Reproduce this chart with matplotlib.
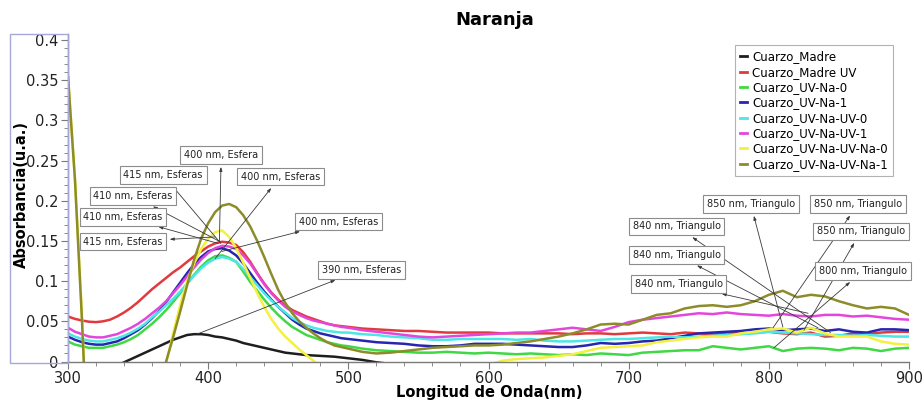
import matplotlib
matplotlib.use('Agg')
import matplotlib.pyplot as plt
from matplotlib.patches import Rectangle
from matplotlib.ticker import MultipleLocator, FixedLocator
from matplotlib.lines import Line2D

plt.rcParams['font.family'] = ['DejaVu Sans']

# ---------------- data ----------------
# 5 nm steps from 300 to 495 nm, 10 nm steps from 500 to 900 nm
wavelength = list(range(300, 500, 5)) + list(range(500, 901, 10))

cuarzo_madre = [
    -0.030, -0.027, -0.024, -0.020, -0.017, -0.013, -0.009, -0.005, -0.001, 0.003,
    0.007, 0.011, 0.015, 0.019, 0.023, 0.027, 0.030, 0.033, 0.034, 0.034,
    0.033, 0.031, 0.030, 0.028, 0.026, 0.023, 0.021, 0.019, 0.017, 0.015,
    0.013, 0.011, 0.010, 0.009, 0.008, 0.0075, 0.007, 0.0065, 0.006, 0.005,
    0.004, 0.002, -0.001, -0.003, -0.003, -0.003, -0.003, -0.003, -0.003, -0.003,
    -0.003, -0.003, -0.003, -0.003, -0.003, -0.003, -0.003, -0.003, -0.003, -0.003,
    -0.003, -0.003, -0.003, -0.003, -0.003, -0.003, -0.003, -0.003, -0.003, -0.003,
    -0.003, -0.003, -0.003, -0.003, -0.003, -0.003, -0.003, -0.003, -0.003, -0.003,
    -0.003]
cuarzo_madre_uv = [
    0.056, 0.053, 0.051, 0.0495, 0.049, 0.050, 0.052, 0.056, 0.061, 0.067,
    0.074, 0.082, 0.090, 0.097, 0.104, 0.111, 0.117, 0.124, 0.131, 0.137,
    0.143, 0.147, 0.149, 0.148, 0.145, 0.136, 0.124, 0.110, 0.097, 0.086,
    0.077, 0.070, 0.064, 0.060, 0.056, 0.053, 0.050, 0.047, 0.045, 0.044,
    0.043, 0.041, 0.040, 0.039, 0.038, 0.038, 0.037, 0.036, 0.036, 0.036,
    0.036, 0.035, 0.035, 0.035, 0.035, 0.035, 0.034, 0.035, 0.035, 0.034,
    0.035, 0.036, 0.035, 0.034, 0.036, 0.035, 0.034, 0.036, 0.035, 0.036,
    0.037, 0.035, 0.034, 0.036, 0.031, 0.032, 0.035, 0.034, 0.036, 0.037,
    0.037]
cuarzo_uv_na_0 = [
    0.025, 0.021, 0.019, 0.017, 0.017, 0.017, 0.019, 0.021, 0.024, 0.028,
    0.033, 0.040, 0.047, 0.055, 0.064, 0.074, 0.085, 0.097, 0.108, 0.118,
    0.126, 0.131, 0.132, 0.129, 0.124, 0.112, 0.099, 0.088, 0.077, 0.067,
    0.058, 0.050, 0.043, 0.038, 0.033, 0.030, 0.027, 0.024, 0.022, 0.020,
    0.019, 0.016, 0.014, 0.013, 0.012, 0.011, 0.011, 0.012, 0.011, 0.010,
    0.011, 0.010, 0.009, 0.010, 0.009, 0.008, 0.009, 0.008, 0.010, 0.009,
    0.008, 0.011, 0.012, 0.013, 0.014, 0.014, 0.019, 0.017, 0.015, 0.017,
    0.019, 0.013, 0.016, 0.017, 0.016, 0.014, 0.017, 0.016, 0.013, 0.016,
    0.017]
cuarzo_uv_na_1 = [
    0.031, 0.027, 0.024, 0.022, 0.021, 0.021, 0.023, 0.025, 0.029, 0.034,
    0.039, 0.046, 0.054, 0.063, 0.074, 0.086, 0.098, 0.110, 0.121, 0.130,
    0.137, 0.140, 0.141, 0.138, 0.132, 0.122, 0.110, 0.098, 0.087, 0.077,
    0.068, 0.060, 0.052, 0.046, 0.041, 0.038, 0.035, 0.033, 0.031, 0.029,
    0.028, 0.026, 0.024, 0.023, 0.022, 0.020, 0.019, 0.019, 0.020, 0.022,
    0.022, 0.022, 0.021, 0.020, 0.019, 0.018, 0.018, 0.020, 0.023, 0.022,
    0.023, 0.025, 0.026, 0.029, 0.032, 0.035, 0.036, 0.037, 0.038, 0.040,
    0.041, 0.039, 0.040, 0.041, 0.038, 0.040, 0.037, 0.036, 0.040, 0.040,
    0.039]
cuarzo_uv_na_uv_0 = [
    0.035, 0.031, 0.028, 0.026, 0.025, 0.025, 0.027, 0.029, 0.032, 0.036,
    0.041, 0.047, 0.055, 0.062, 0.070, 0.078, 0.087, 0.097, 0.107, 0.116,
    0.123, 0.128, 0.130, 0.128, 0.124, 0.115, 0.105, 0.095, 0.085, 0.076,
    0.068, 0.061, 0.054, 0.049, 0.045, 0.042, 0.040, 0.038, 0.037, 0.036,
    0.036, 0.034, 0.033, 0.031, 0.030, 0.029, 0.027, 0.027, 0.028, 0.028,
    0.028, 0.028, 0.027, 0.028, 0.026, 0.025, 0.025, 0.026, 0.027, 0.028,
    0.028, 0.029, 0.030, 0.031, 0.030, 0.031, 0.032, 0.033, 0.034, 0.035,
    0.037, 0.036, 0.035, 0.034, 0.033, 0.033, 0.032, 0.033, 0.032, 0.031,
    0.031]
cuarzo_uv_na_uv_1 = [
    0.042, 0.037, 0.034, 0.031, 0.030, 0.030, 0.032, 0.034, 0.038, 0.042,
    0.047, 0.053, 0.060, 0.067, 0.075, 0.085, 0.095, 0.106, 0.117, 0.127,
    0.135, 0.141, 0.144, 0.143, 0.140, 0.132, 0.122, 0.109, 0.096, 0.085,
    0.076, 0.068, 0.062, 0.058, 0.054, 0.051, 0.049, 0.047, 0.045, 0.043,
    0.042, 0.039, 0.037, 0.035, 0.033, 0.031, 0.030, 0.031, 0.032, 0.033,
    0.034, 0.035, 0.036, 0.036, 0.038, 0.040, 0.042, 0.040, 0.038, 0.043,
    0.049, 0.052, 0.054, 0.056, 0.058, 0.060, 0.059, 0.061, 0.059, 0.058,
    0.057, 0.059, 0.057, 0.056, 0.058, 0.058, 0.056, 0.057, 0.055, 0.053,
    0.052]
cuarzo_uv_na_uv_na_0 = [
    0.355, 0.227, 0.055, -0.150, -0.200, -0.220, -0.230, -0.230, -0.220, -0.200,
    -0.170, -0.140, -0.100, -0.055, -0.002, 0.035, 0.070, 0.100, 0.122, 0.140,
    0.153, 0.161, 0.163, 0.155, 0.141, 0.123, 0.104, 0.085, 0.068, 0.053,
    0.041, 0.031, 0.023, 0.015, 0.008, 0.001, -0.006, -0.013, -0.020, -0.025,
    -0.030, -0.035, -0.038, -0.040, -0.040, -0.038, -0.035, -0.030, -0.022, -0.012,
    -0.004, 0.001, 0.003, 0.004, 0.005, 0.007, 0.009, 0.013, 0.017, 0.018,
    0.019, 0.020, 0.024, 0.026, 0.028, 0.030, 0.031, 0.031, 0.035, 0.037,
    0.040, 0.041, 0.036, 0.042, 0.035, 0.031, 0.031, 0.031, 0.025, 0.022,
    0.021]
cuarzo_uv_na_uv_na_1 = [
    0.355, 0.225, 0.050, -0.150, -0.200, -0.220, -0.230, -0.230, -0.220, -0.200,
    -0.170, -0.140, -0.100, -0.050, 0.000, 0.030, 0.062, 0.095, 0.127, 0.153,
    0.172, 0.186, 0.194, 0.196, 0.192, 0.182, 0.168, 0.150, 0.130, 0.109,
    0.089, 0.073, 0.060, 0.050, 0.042, 0.035, 0.029, 0.024, 0.020, 0.018,
    0.016, 0.012, 0.010, 0.011, 0.013, 0.015, 0.017, 0.018, 0.019, 0.020,
    0.020, 0.021, 0.023, 0.025, 0.028, 0.031, 0.035, 0.040, 0.046, 0.047,
    0.046, 0.052, 0.058, 0.060, 0.066, 0.069, 0.070, 0.068, 0.070, 0.075,
    0.083, 0.088, 0.080, 0.083, 0.081, 0.075, 0.070, 0.066, 0.068, 0.066,
    0.058]

series_names = ['Cuarzo_Madre', 'Cuarzo_Madre UV', 'Cuarzo_UV-Na-0', 'Cuarzo_UV-Na-1',
                'Cuarzo_UV-Na-UV-0', 'Cuarzo_UV-Na-UV-1', 'Cuarzo_UV-Na-UV-Na-0',
                'Cuarzo_UV-Na-UV-Na-1']
series_values = [cuarzo_madre, cuarzo_madre_uv, cuarzo_uv_na_0, cuarzo_uv_na_1,
                 cuarzo_uv_na_uv_0, cuarzo_uv_na_uv_1, cuarzo_uv_na_uv_na_0,
                 cuarzo_uv_na_uv_na_1]
series_colors = ['#1e1e1e', '#e03a3e', '#40d844', '#2626b0', '#4ce6e6', '#e446dc',
                 '#f4f040', '#8c8c2a']

x_ticks = [300, 400, 500, 600, 700, 800, 900]
y_ticks = [0, 0.05, 0.1, 0.15, 0.2, 0.25, 0.3, 0.35, 0.4]
y_tick_labels = ['0', '0.05', '0.1', '0.15', '0.2', '0.25', '0.3', '0.35', '0.4']

# annotation label, point (nm, abs), label position (nm, abs)
annot_labels = ['400 nm, Esfera', '415 nm, Esferas', '400 nm, Esferas', '410 nm, Esferas',
                '410 nm, Esferas', '415 nm, Esferas', '400 nm, Esferas', '390 nm, Esferas',
                '850 nm, Triangulo', '850 nm, Triangulo', '840 nm, Triangulo',
                '850 nm, Triangulo', '840 nm, Triangulo', '800 nm, Triangulo',
                '840 nm, Triangulo']
annot_points = [(408, 0.149), (409, 0.147), (405, 0.128), (408.6, 0.149),
                (407, 0.147), (405, 0.155), (409.8, 0.137), (392, 0.034),
                (810, 0.043), (803, 0.042), (844, 0.036), (825, 0.039),
                (835, 0.042), (803.6, 0.017), (828, 0.060)]
annot_text_pos = [(409.3, 0.257), (367.9, 0.232), (451.4, 0.230), (346.4, 0.206),
                  (339.3, 0.180), (339.3, 0.149), (492.9, 0.174), (509.3, 0.114),
                  (787.1, 0.196), (863.6, 0.196), (734.3, 0.168), (865.7, 0.162),
                  (734.3, 0.1325), (867.1, 0.1126), (735.7, 0.0964)]

# ---------------- figure ----------------
W, H = 924, 400
fig = plt.figure(figsize=(W / 100, H / 100), dpi=100)
ax = fig.add_axes([68 / W, (H - 361.5) / H, 841 / W, 327.5 / H])

for name, vals, col in zip(series_names, series_values, series_colors):
    ax.plot(wavelength, vals, color=col, lw=1.8, label=name,
            solid_joinstyle='round', solid_capstyle='round')

ax.set_xlim(300, 900)
ax.set_ylim(0, 0.4075)
ax.xaxis.set_major_locator(FixedLocator(x_ticks))
ax.xaxis.set_minor_locator(MultipleLocator(20))
ax.set_yticks(y_ticks)
ax.set_yticklabels(y_tick_labels)
ax.yaxis.set_minor_locator(MultipleLocator(0.01))

for s in ['top', 'right']:
    ax.spines[s].set_visible(False)
for s in ['left', 'bottom']:
    ax.spines[s].set_color('#7a7a7a')
    ax.spines[s].set_linewidth(1.0)
ax.tick_params(which='major', direction='out', length=5, width=0.8, color='#7a7a7a',
               labelsize=10.5, labelcolor='#222222', pad=2)
ax.tick_params(which='minor', direction='out', length=3, width=0.6, color='#7a7a7a')

for lab, pt, tp in zip(annot_labels, annot_points, annot_text_pos):
    ax.annotate(lab, xy=pt, xytext=tp, textcoords='data', ha='center', va='center',
                fontsize=7, color='#222222', zorder=6, annotation_clip=False,
                bbox=dict(boxstyle='square,pad=0.38', fc='white', ec='#8c8c8c', lw=0.8),
                arrowprops=dict(arrowstyle='<|-,head_length=0.35,head_width=0.12',
                                color='#3a3a3a', lw=0.6, shrinkA=2, shrinkB=0))

handles = [Line2D([0], [0], color=c, lw=2) for c in series_colors]
leg = fig.legend(handles, series_names, loc='upper left',
                 bbox_to_anchor=(735 / W, 1 - 45 / H), bbox_transform=fig.transFigure,
                 fontsize=8.5, frameon=True, fancybox=False, handlelength=0.6,
                 handletextpad=0.4, labelspacing=0.2, borderpad=0.45,
                 borderaxespad=0)
leg.get_frame().set_edgecolor('#a0a0a0')
leg.get_frame().set_linewidth(0.8)

fig.text(495 / W, 1 - 20 / H, 'Naranja', ha='center', va='center',
         fontsize=13, fontweight='bold')
fig.text(489 / W, 1 - 392 / H, 'Longitud de Onda(nm)', ha='center', va='center',
         fontsize=10.5, fontweight='bold')
fig.text(21 / W, 1 - 195 / H, 'Absorbancia(u.a.)', ha='center', va='center',
         fontsize=10.5, fontweight='bold', rotation=90)

fig.patches.append(Rectangle((10 / W, (H - 363) / H), 58 / W, 329 / H,
                             transform=fig.transFigure, fill=False,
                             ec='#a8a8d8', lw=1.0))

fig.savefig('out.png', dpi=100)
